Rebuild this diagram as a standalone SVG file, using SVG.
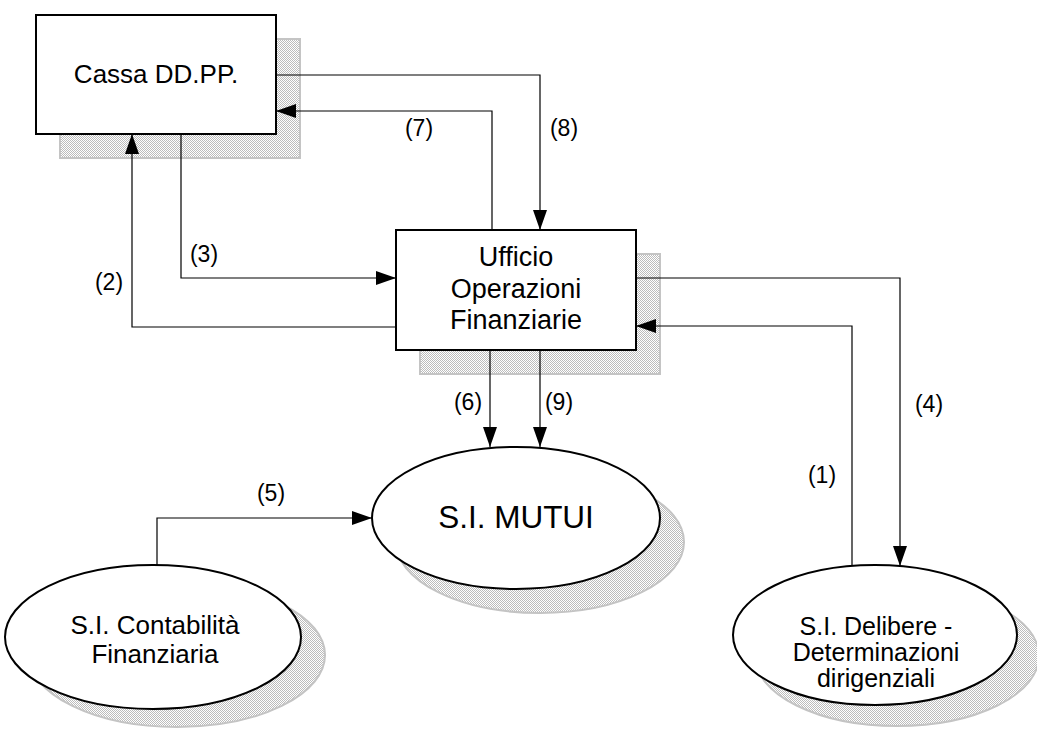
<svg xmlns="http://www.w3.org/2000/svg" width="1037" height="729" viewBox="0 0 1037 729">
<style>
.shadow{fill:url(#dots);stroke:#c4c4c4;stroke-width:2}
.node{fill:#fff;stroke:#000;stroke-width:2}
.t{font-family:"Liberation Sans",Arial,sans-serif;font-size:26px;fill:#000;text-anchor:middle}
.t27{font-size:27px}
.t25{font-size:25px}
.big{font-size:31.5px}
.lbl{font-family:"Liberation Sans",Arial,sans-serif;font-size:23px;fill:#000;text-anchor:middle}
.c{fill:none;stroke:#000;stroke-width:1.2}
</style>
<defs>
<pattern id="dots" width="2" height="2" patternUnits="userSpaceOnUse">
<rect width="2" height="2" fill="#ffffff"/>
<rect width="1" height="1" fill="#bcbcbc"/>
<rect x="1" y="1" width="1" height="1" fill="#bcbcbc"/>
</pattern>
<marker id="ah" viewBox="0 0 20 14" refX="20" refY="7" markerWidth="20" markerHeight="14" markerUnits="userSpaceOnUse" orient="auto">
<path d="M0,0 L20,7 L0,14 Z" fill="#000"/>
</marker>
</defs>
<rect width="1037" height="729" fill="#fff"/>

<g id="cassa">
<rect class="shadow" x="60" y="39" width="240" height="119"/>
<rect class="node" x="36" y="15" width="240" height="119"/>
<text class="t" x="156" y="83">Cassa DD.PP.</text>
</g>

<g id="ufficio">
<rect class="shadow" x="420" y="254" width="240" height="120"/>
<rect class="node" x="396" y="230" width="240" height="120"/>
<text class="t t27" x="516" y="266">Ufficio</text>
<text class="t t27" x="516" y="298">Operazioni</text>
<text class="t t27" x="516" y="329">Finanziarie</text>
</g>

<g id="mutui">
<ellipse class="shadow" cx="540" cy="542" rx="144" ry="71"/>
<ellipse class="node" cx="516" cy="518" rx="144" ry="71"/>
<text class="t big" x="516" y="528">S.I. MUTUI</text>
</g>

<g id="contabilita">
<ellipse class="shadow" cx="177" cy="655" rx="148" ry="72"/>
<ellipse class="node" cx="153" cy="637" rx="148" ry="72"/>
<text class="t" x="155" y="634">S.I. Contabilità</text>
<text class="t" x="155" y="663">Finanziaria</text>
</g>

<g id="delibere">
<ellipse class="shadow" cx="897" cy="656" rx="142" ry="70"/>
<ellipse class="node" cx="875" cy="635" rx="142" ry="70"/>
<text class="t t25" x="876" y="635">S.I. Delibere -</text>
<text class="t t25" x="876" y="661">Determinazioni</text>
<text class="t t25" x="876" y="687">dirigenziali</text>
</g>

<g id="connectors">
<path class="c" d="M276,75 H540 V230" marker-end="url(#ah)"/>
<path class="c" d="M492,230 V111 H276" marker-end="url(#ah)"/>
<path class="c" d="M181,134 V278 H396" marker-end="url(#ah)"/>
<path class="c" d="M396,327 H132 V134" marker-end="url(#ah)"/>
<path class="c" d="M636,278 H900 V566" marker-end="url(#ah)"/>
<path class="c" d="M852,566 V326 H636" marker-end="url(#ah)"/>
<path class="c" d="M490,350 V447" marker-end="url(#ah)"/>
<path class="c" d="M540,350 V447" marker-end="url(#ah)"/>
<path class="c" d="M157,565 V518 H372" marker-end="url(#ah)"/>
</g>

<g id="labels">
<text class="lbl" x="419" y="136">(7)</text>
<text class="lbl" x="564" y="136">(8)</text>
<text class="lbl" x="204" y="262">(3)</text>
<text class="lbl" x="109" y="290">(2)</text>
<text class="lbl" x="822" y="483">(1)</text>
<text class="lbl" x="929" y="412">(4)</text>
<text class="lbl" x="468" y="410">(6)</text>
<text class="lbl" x="559" y="410">(9)</text>
<text class="lbl" x="271" y="501">(5)</text>
</g>
</svg>
